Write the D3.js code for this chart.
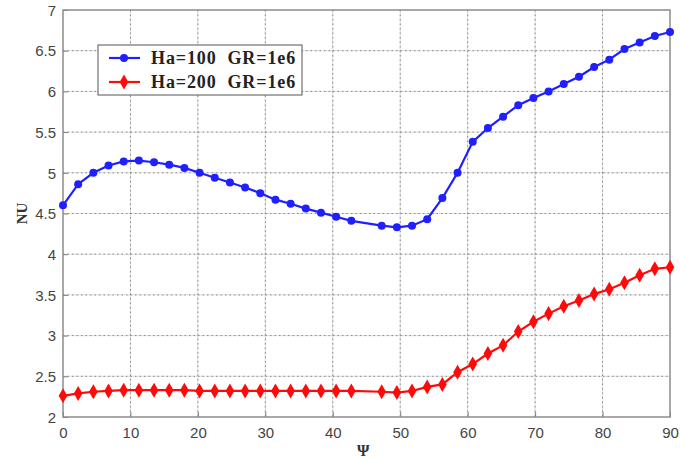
<!DOCTYPE html>
<html>
<head>
<meta charset="utf-8">
<script src="https://cdn.jsdelivr.net/npm/d3@7"></script>
<style>
	body { margin: 0; background: #fff; }
	svg { display: block; }
</style>
</head>
<body>
<svg id="chart" width="680" height="462"></svg>
<script>
// psi values (point 45 is absent in the picture for both curves)
var psi = [0, 2.25, 4.5, 6.75, 9, 11.25, 13.5, 15.75, 18, 20.25, 22.5, 24.75, 27, 29.25, 31.5, 33.75, 36, 38.25, 40.5, 42.75,
	47.25, 49.5, 51.75, 54, 56.25, 58.5, 60.75, 63, 65.25, 67.5, 69.75, 72, 74.25, 76.5, 78.75, 81, 83.25, 85.5, 87.75, 90];

var nuHa100 = [4.60, 4.86, 5.00, 5.09, 5.14, 5.15, 5.13, 5.10, 5.06, 5.00, 4.94, 4.88, 4.82, 4.75, 4.67, 4.62, 4.56, 4.51, 4.46, 4.41,
	4.35, 4.33, 4.35, 4.43, 4.69, 5.00, 5.38, 5.55, 5.69, 5.83, 5.92, 6.00, 6.09, 6.18, 6.30, 6.39, 6.52, 6.60, 6.68, 6.73];

var nuHa200 = [2.26, 2.29, 2.31, 2.32, 2.33, 2.33, 2.33, 2.33, 2.33, 2.32, 2.32, 2.32, 2.32, 2.32, 2.32, 2.32, 2.32, 2.32, 2.32, 2.32,
	2.31, 2.30, 2.32, 2.37, 2.40, 2.55, 2.65, 2.78, 2.88, 3.05, 3.17, 3.27, 3.36, 3.43, 3.51, 3.57, 3.65, 3.74, 3.82, 3.84];

var xTicks = [0, 10, 20, 30, 40, 50, 60, 70, 80, 90];
var yTicks = [2, 2.5, 3, 3.5, 4, 4.5, 5, 5.5, 6, 6.5, 7];

var seriesNames = ["Ha=100  GR=1e6", "Ha=200  GR=1e6"];
var seriesColors = ["#1f1fff", "#ff0a0a"];

var margin = {top: 10, right: 10, bottom: 45, left: 63},
	width = 680 - margin.left - margin.right,
	height = 462 - margin.top - margin.bottom;

var svg = d3.select("#chart");
var g = svg.append("g")
	.attr("transform", "translate(" + margin.left + "," + margin.top + ")");

var x = d3.scaleLinear().domain([0, 90]).range([0, width]);
var y = d3.scaleLinear().domain([2, 7]).range([height, 0]);

// grid: faint solid line with dotted overlay, like the matlab export
function drawGrid(cls, color, dash) {
	var grid = g.append("g").attr("class", cls);
	grid.selectAll(".gx").data(xTicks.slice(1, -1)).enter().append("line")
		.attr("x1", function(d) { return x(d); }).attr("x2", function(d) { return x(d); })
		.attr("y1", 0).attr("y2", height)
		.attr("stroke", color).attr("stroke-dasharray", dash);
	grid.selectAll(".gy").data(yTicks.slice(1, -1)).enter().append("line")
		.attr("y1", function(d) { return y(d); }).attr("y2", function(d) { return y(d); })
		.attr("x1", 0).attr("x2", width)
		.attr("stroke", color).attr("stroke-dasharray", dash);
}
drawGrid("grid-solid", "#dcdcdc", null);
drawGrid("grid-dots", "#8a8a8a", "1.5,3");

// axes with inward ticks
var xAxis = d3.axisBottom(x).tickValues(xTicks).tickSize(-5).tickPadding(10).tickFormat(d3.format("d"));
var yAxis = d3.axisLeft(y).tickValues(yTicks).tickSize(-5).tickPadding(7).tickFormat(function(d) { return d; });

var gx = g.append("g").attr("transform", "translate(0," + height + ")").call(xAxis);
var gy = g.append("g").call(yAxis);
[gx, gy].forEach(function(a) {
	a.select(".domain").remove();
	a.selectAll("line").attr("stroke", "#808080");
	a.selectAll("text")
		.attr("fill", "#444")
		.style("font-family", "'Liberation Sans', Arial, sans-serif")
		.style("font-size", "15px");
});
gy.selectAll("text").attr("dy", "0.35em");

// frame
g.append("rect")
	.attr("width", width).attr("height", height)
	.attr("fill", "none").attr("stroke", "#8c8c8c").attr("stroke-width", 1.5);

var line = d3.line()
	.x(function(d) { return x(d[0]); })
	.y(function(d) { return y(d[1]); });

var diamond = d3.symbol().type(d3.symbolDiamond).size(65);

function drawSeries(values, color, marker) {
	var pts = psi.map(function(p, i) { return [p, values[i]]; });
	g.append("path").datum(pts)
		.attr("d", line)
		.attr("fill", "none")
		.attr("stroke", color)
		.attr("stroke-width", 2.2);
	var m = g.append("g").selectAll(".m").data(pts).enter();
	if (marker === "circle") {
		m.append("circle")
			.attr("cx", function(d) { return x(d[0]); })
			.attr("cy", function(d) { return y(d[1]); })
			.attr("r", 4)
			.attr("fill", color);
	} else {
		m.append("path")
			.attr("d", diamond)
			.attr("transform", function(d) { return "translate(" + x(d[0]) + "," + y(d[1]) + ")"; })
			.attr("fill", color);
	}
}
drawSeries(nuHa100, seriesColors[0], "circle");
drawSeries(nuHa200, seriesColors[1], "diamond");

// legend
var legend = svg.append("g").attr("transform", "translate(98,45)");
legend.append("rect")
	.attr("width", 204).attr("height", 50)
	.attr("fill", "#fff").attr("stroke", "#555").attr("stroke-width", 1);
seriesNames.forEach(function(name, i) {
	var ly = 13 + i * 24;
	legend.append("line")
		.attr("x1", 11).attr("x2", 42).attr("y1", ly).attr("y2", ly)
		.attr("stroke", seriesColors[i]).attr("stroke-width", 2.2);
	if (i === 0) {
		legend.append("circle").attr("cx", 26).attr("cy", ly).attr("r", 4).attr("fill", seriesColors[i]);
	} else {
		legend.append("path").attr("d", diamond)
			.attr("transform", "translate(26," + ly + ")").attr("fill", seriesColors[i]);
	}
	legend.append("text")
		.attr("x", 53).attr("y", ly).attr("dy", "0.35em")
		.attr("fill", "#222")
		.style("font-family", "'Liberation Serif', 'Times New Roman', serif")
		.style("font-weight", "bold")
		.style("font-size", "18px")
		.style("letter-spacing", "0.9px")
		.style("white-space", "pre")
		.attr("xml:space", "preserve")
		.text(name);
});

// axis labels
svg.append("text")
	.attr("x", margin.left + x(44.5)).attr("y", 456)
	.attr("text-anchor", "middle")
	.attr("fill", "#333")
	.style("font-family", "'Liberation Serif', 'Times New Roman', serif")
	.style("font-weight", "bold")
	.style("font-size", "16px")
	.text("Ψ");

svg.append("text")
	.attr("transform", "translate(27," + (margin.top + y(4.5)) + ") rotate(-90)")
	.attr("text-anchor", "middle")
	.attr("fill", "#333")
	.style("font-family", "'Liberation Serif', 'Times New Roman', serif")
	.style("font-weight", "bold")
	.style("font-size", "15px")
	.text("NU");
</script>
</body>
</html>
